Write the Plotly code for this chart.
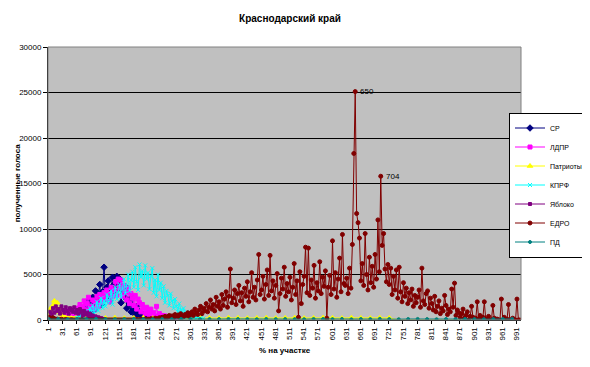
import plotly.graph_objects as go

# ---------------- data ----------------
X_TICKS = list(range(1, 1001, 30))          # 1, 31, ..., 991
X_MIN, X_MAX = 1, 1000

SR_START, SR_STEP = 32, 3
SR_VALUES = [
    100, 0, 150, 50, 200, 100, 250, 150, 300, 200,
    300, 800, 150, 1100, 600, 400, 1500, 900, 2100, 700,
    1600, 2500, 1100, 3200, 2000, 2700, 3900, 1700, 3100, 5800,
    2400, 3600, 4300, 2100, 3400, 4700, 3900, 2800, 4800, 3500,
    4500, 1900, 3300, 2600, 3700, 1300, 2200, 1800, 900, 2500,
    1100, 600, 1500, 400, 900, 700, 250, 600, 100, 400,
    200, 0, 150, 0, 100, 50, 0, 80, 0, 0,
]

LDPR_START, LDPR_STEP = 32, 3
LDPR_VALUES = [
    300, 700, 500, 1000, 400, 1100, 800, 600, 1200, 700,
    1300, 900, 1700, 700, 1500, 2100, 1100, 1800, 2500, 1300,
    1500, 2200, 1200, 2000, 2600, 1500, 2800, 1900, 2500, 3000,
    2300, 3300, 2900, 2000, 3600, 2600, 3300, 4200, 2700, 4500,
    3500, 4400, 2600, 3800, 3100, 2200, 3500, 1800, 2900, 2400,
    1600, 2700, 1200, 2300, 1900, 900, 1700, 1300, 700, 1400,
    1000, 500, 1200, 600, 800, 350, 1500, 450, 700, 250,
    500, 200, 450, 150, 300, 100, 350, 80, 200, 50,
]

PATR_HEAD_START, PATR_HEAD_STEP = 2, 3
PATR_HEAD_VALUES = [
    500, 1200, 800, 1600, 2100, 1400, 1900, 900, 1200, 600,
    400, 300, 250, 200, 200, 150, 200, 150, 150, 200,
]
PATR_TAIL_START, PATR_TAIL_STEP = 62, 20
PATR_TAIL_VALUES = [
    200, 250, 200, 220, 250, 200, 230, 250, 200, 220,
    250, 230, 200, 250, 220, 200, 250, 230, 200, 220,
    250, 200, 230, 250, 200, 220, 250, 230, 200, 250,
    220, 200, 250, 230, 0, 0, 0, 0, 0, 0,
    0, 0, 0, 0, 0, 0, 0,
]

KPRF_START, KPRF_STEP = 62, 3
KPRF_VALUES = [
    200, 600, 300, 800, 500, 350, 1000, 700, 500, 1300,
    900, 1600, 700, 1200, 2000, 1000, 1700, 2400, 1300, 2100,
    1500, 2800, 1900, 2400, 3200, 1700, 2700, 3600, 2300, 3000,
    3900, 2500, 3400, 4500, 2900, 3800, 5000, 3200, 4400, 5300,
    3600, 5800, 4200, 3300, 6100, 4700, 5400, 3800, 6000, 4500,
    5200, 3400, 4800, 5700, 3000, 4400, 2600, 5000, 3300, 4100,
    2400, 3700, 1900, 3200, 2700, 1600, 2900, 2100, 1300, 2300,
    1500, 900, 1800, 1100, 600, 1300, 700, 900, 400, 650,
    250, 600, 200, 400, 150, 350, 100, 200, 50, 150,
]

YABL_START, YABL_STEP = 2, 3
YABL_VALUES = [
    300, 900, 600, 1300, 800, 1500, 1000, 1200, 700, 1500,
    1100, 800, 1400, 1000, 700, 1300, 1100, 900, 1400, 800,
    1100, 700, 1200, 900, 500, 1000, 600, 800, 350, 700,
    300, 500, 150, 400, 100, 300, 50, 200, 0, 100,
]

EDRO_START, EDRO_STEP = 2, 3
EDRO_VALUES = [
    300, 200, 100, 250, 150, 0, 100, 50, 0, 80,
    0, 0, 60, 0, 0, 0, 40, 0, 0, 0,
    0, 0, 0, 0, 0, 0, 0, 0, 0, 0,
    0, 0, 0, 0, 0, 0, 0, 0, 0, 0,
    0, 0, 0, 0, 0, 0, 0, 0, 0, 0,
    0, 0, 0, 0, 0, 0, 0, 0, 0, 0,
    0, 0, 50, 0, 0, 80, 0, 0, 100, 0,
    100, 0, 150, 100, 0, 200, 150, 100, 250, 200,
    300, 250, 400, 200, 350, 500, 300, 450, 250, 600,
    400, 550, 300, 700, 450, 350, 600, 500, 800, 400,
    700, 900, 500, 1200, 800, 600, 1100, 1500, 700, 1300,
    1000, 1800, 900, 1400, 2200, 1200, 1700, 1000, 2500, 1500,
    2000, 1200, 2800, 1600, 2300, 3100, 1400, 2600, 5600, 1900,
    2400, 3300, 1700, 2900, 3800, 2100, 3000, 1500, 3500, 2600,
    4200, 2000, 3100, 5200, 2500, 3600, 2200, 4400, 7200, 2800,
    3300, 4800, 2300, 3900, 5500, 2700, 7100, 3200, 4300, 2400,
    3800, 5100, 1000, 2900, 4600, 3400, 5800, 2600, 4000, 3100,
    4700, 2200, 3600, 6200, 2800, 4300, 300, 5300, 1800, 3900,
    4800, 8000, 3000, 7900, 2700, 4400, 3500, 6000, 2400, 4100,
    3200, 6400, 2900, 4700, 3700, 5400, 200, 3600, 4900, 2800,
    8700, 3400, 5200, 2500, 4500, 6800, 3100, 9400, 4000, 3800,
    4600, 2900, 5700, 3500, 8300, 18300, 25100, 11700, 10700, 9000,
    4300, 6200, 3800, 9500, 5000, 3300, 6900, 4100, 5900, 3600,
    7200, 4500, 11000, 5300, 15800, 8200, 9500, 5600, 4200, 6100,
    3900, 5700, 2800, 4800, 3300, 5500, 2400, 5800, 3100, 2000,
    4100, 2600, 3500, 1800, 3000, 2200, 3400, 1500, 2700, 1900,
    2500, 3300, 1400, 5700, 2100, 1700, 2900, 3200, 1300, 2400,
    1800, 1100, 2600, 900, 1500, 2100, 700, 1300, 1000, 2700,
    1600, 600, 1200, 900, 3400, 1400, 4050, 500, 1100, 800,
    300, 700, 1200, 200, 500, 900, 0, 400, 1500, 300,
    0, 200, 2000, 100, 500, 0, 300, 2000, 0, 100,
    400, 0, 0, 1600, 200, 0, 100, 0, 0, 2300,
    0, 300, 0, 100, 1700, 0, 0, 200, 0, 0,
    2300, 0, 0,
]
EDRO_LABELLED = [650, 704]

PD_START, PD_STEP = 2, 20
PD_VALUES = [
    100, 120, 90, 110, 100, 130, 100, 90, 110, 120,
    100, 90, 110, 100, 120, 100, 90, 110, 100, 120,
    110, 100, 90, 120, 100, 110, 100, 90, 120, 110,
    100, 120, 90, 110, 100, 130, 100, 90, 110, 120,
    100, 90, 110, 100, 120, 100, 90, 110, 100, 120,
]

Y_TICKS = [0, 5000, 10000, 15000, 20000, 25000, 30000]

# ---------------- helpers ----------------
def xs(start, step, values):
    return list(range(start, start + step * len(values), step))

FONT = "Liberation Sans, Arial, sans-serif"

series = [
    ("СР", xs(SR_START, SR_STEP, SR_VALUES), SR_VALUES, "#000080", "diamond", 5),
    ("ЛДПР", xs(LDPR_START, LDPR_STEP, LDPR_VALUES), LDPR_VALUES, "#FF00FF", "square", 4),
    ("Патриоты",
     xs(PATR_HEAD_START, PATR_HEAD_STEP, PATR_HEAD_VALUES) + xs(PATR_TAIL_START, PATR_TAIL_STEP, PATR_TAIL_VALUES),
     PATR_HEAD_VALUES + PATR_TAIL_VALUES, "#FFFF00", "triangle-up", 5),
    ("КПРФ", xs(KPRF_START, KPRF_STEP, KPRF_VALUES), KPRF_VALUES, "#00FFFF", "x-thin-open", 4),
    ("Яблоко", xs(YABL_START, YABL_STEP, YABL_VALUES), YABL_VALUES, "#800080", "square", 3),
    ("ЕДРО", xs(EDRO_START, EDRO_STEP, EDRO_VALUES), EDRO_VALUES, "#800000", "circle", 4),
    ("ПД", xs(PD_START, PD_STEP, PD_VALUES), PD_VALUES, "#008080", "circle", 3),
]

fig = go.Figure()
for name, x, y, color, symbol, size in series:
    fig.add_trace(go.Scatter(
        x=x, y=y, name=name, mode="lines+markers",
        line=dict(color=color, width=1),
        marker=dict(color=color, symbol=symbol, size=size,
                    line=dict(color=color, width=1)),
    ))

edro_x = xs(EDRO_START, EDRO_STEP, EDRO_VALUES)
for cat in EDRO_LABELLED:
    val = EDRO_VALUES[edro_x.index(cat)]
    fig.add_annotation(x=cat, y=val, xref="x", yref="y", text=str(cat),
                       showarrow=False, xanchor="left", yanchor="middle", xshift=3,
                       font=dict(size=8, color="black", family=FONT))

# axis titles
fig.add_annotation(x=0.502, y=-0.112, xref="paper", yref="paper",
                   text="<b>% на участке</b>", showarrow=False,
                   xanchor="center", yanchor="middle",
                   font=dict(size=8, color="black", family=FONT))
fig.add_annotation(x=-0.064, y=0.50, xref="paper", yref="paper",
                   text="<b>полученные голоса</b>", showarrow=False, textangle=-90,
                   xanchor="center", yanchor="middle",
                   font=dict(size=8, color="black", family=FONT))

fig.add_shape(type="rect", xref="paper", yref="paper", x0=0, y0=0, x1=1, y1=1,
              line=dict(color="#808080", width=1), layer="above")

# page body has an 8px default margin, so the figure is sized/offset to compensate
W, H = 582, 359
fig.update_layout(
    width=W, height=H,
    margin=dict(l=40, r=69, t=39, b=47, autoexpand=False),
    paper_bgcolor="white", plot_bgcolor="#C0C0C0",
    font=dict(family=FONT, size=8, color="black"),
    title=dict(text="<b>Краснодарский край</b>", x=282 / W, xref="container",
               xanchor="center", y=1 - 10 / H, yref="container", yanchor="middle",
               font=dict(size=10, family=FONT, color="black")),
    showlegend=True,
    legend=dict(x=(588 - 48) / 473, xanchor="right", y=(320 - 185) / 273, yanchor="middle",
                bgcolor="white", bordercolor="black", borderwidth=1,
                font=dict(size=7, family=FONT, color="black"),
                itemwidth=30, tracegroupgap=0),
    xaxis=dict(range=[X_MIN - 0.5, X_MAX + 0.5], tickmode="array", tickvals=X_TICKS,
               ticktext=[str(t) for t in X_TICKS], tickangle=-90,
               ticks="outside", ticklen=3, tickcolor="black",
               showgrid=False, zeroline=False, showline=True, linecolor="black", linewidth=1,
               tickfont=dict(size=8, family=FONT)),
    yaxis=dict(range=[0, 30000], tickmode="array", tickvals=Y_TICKS,
               ticktext=[str(t) for t in Y_TICKS],
               ticks="outside", ticklen=4, tickcolor="black",
               showgrid=True, gridcolor="black", gridwidth=1, zeroline=False,
               showline=True, linecolor="black", linewidth=1,
               tickfont=dict(size=8, family=FONT)),
)

fig.write_html("out.html")
